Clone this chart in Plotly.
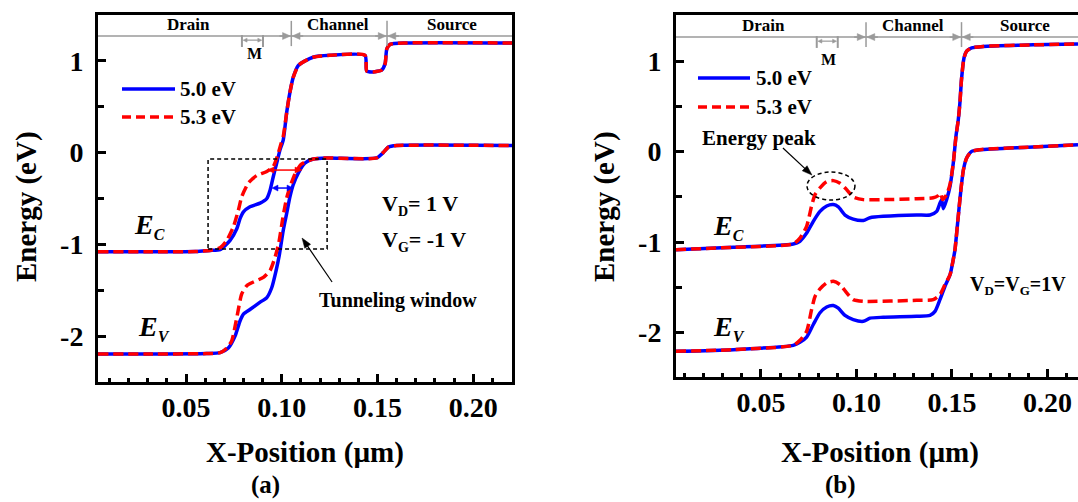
import math
import plotly.graph_objects as go

# ---------------- data ----------------
# Panel (a): VD = 1 V, VG = -1 V
a_ec_blue_x = [0.004, 0.030, 0.055, 0.0625, 0.0678, 0.073, 0.0765, 0.0782, 0.080, 0.0834, 0.0887, 0.0922,
               0.0939, 0.0956, 0.0974, 0.0991, 0.1008, 0.1026, 0.1043, 0.106, 0.1087, 0.1122, 0.1164, 0.1252,
               0.1435, 0.1444, 0.1477, 0.1522, 0.154, 0.1549, 0.1566, 0.1653, 0.2203]
a_ec_blue_y = [-1.08, -1.08, -1.078, -1.066, -1.058, -0.956, -0.83, -0.72, -0.645, -0.59, -0.55, -0.50,
               -0.41, -0.26, -0.11, 0.03, 0.14, 0.44, 0.66, 0.82, 0.95, 1.00, 1.04, 1.06,
               1.06, 0.89, 0.88, 0.90, 0.97, 1.13, 1.18, 1.195, 1.195]

a_ec_red_x = [0.004, 0.030, 0.055, 0.0625, 0.0678, 0.0713, 0.0747, 0.0773, 0.0791, 0.0826, 0.0869, 0.0922,
              0.0956, 0.0977, 0.0995, 0.1008, 0.1026, 0.1043, 0.106, 0.1087, 0.1122, 0.1164, 0.1252,
              0.1435, 0.1444, 0.1477, 0.1522, 0.154, 0.1549, 0.1566, 0.1653, 0.2203]
a_ec_red_y = [-1.08, -1.08, -1.078, -1.066, -1.036, -0.956, -0.81, -0.63, -0.48, -0.33, -0.25, -0.205,
              -0.15, -0.04, 0.09, 0.18, 0.44, 0.66, 0.82, 0.95, 1.00, 1.04, 1.06,
              1.06, 0.89, 0.88, 0.90, 0.97, 1.13, 1.18, 1.195, 1.195]

a_ev_blue_x = [0.004, 0.030, 0.0608, 0.0678, 0.0721, 0.0756, 0.0782, 0.080, 0.0834, 0.0887, 0.0922, 0.0948,
               0.097, 0.0987, 0.1008, 0.1026, 0.1043, 0.106, 0.1087, 0.1122, 0.1165, 0.1235, 0.1496,
               0.153, 0.1557, 0.160, 0.2203]
a_ev_blue_y = [-2.195, -2.195, -2.19, -2.18, -2.13, -2.0, -1.835, -1.76, -1.71, -1.63, -1.58, -1.47,
               -1.29, -1.12, -0.846, -0.66, -0.48, -0.35, -0.22, -0.113, -0.07, -0.058, -0.058,
               0.0, 0.06, 0.077, 0.077]

a_ev_red_x = [0.004, 0.030, 0.0608, 0.0678, 0.0713, 0.0739, 0.0765, 0.0791, 0.0817, 0.0852, 0.0904, 0.0939,
              0.0965, 0.0985, 0.1005, 0.1025, 0.1045, 0.107, 0.110, 0.1165, 0.1235, 0.1496,
              0.153, 0.1557, 0.160, 0.2203]
a_ev_red_y = [-2.195, -2.195, -2.19, -2.18, -2.13, -2.05, -1.80, -1.54, -1.45, -1.41, -1.36, -1.285,
              -1.14, -0.98, -0.72, -0.50, -0.36, -0.23, -0.13, -0.07, -0.058, -0.058,
              0.0, 0.06, 0.077, 0.077]

# Panel (b): VD = VG = 1 V
b_ec_blue_x = [0.0055, 0.0355, 0.0669, 0.0704, 0.0739, 0.0774, 0.0809, 0.0844, 0.0879, 0.0905, 0.094, 0.0983,
               0.1036, 0.1071, 0.114, 0.1315, 0.1385, 0.142, 0.1437, 0.1446, 0.1455, 0.1472, 0.149, 0.1507,
               0.1521, 0.1533, 0.1542, 0.155, 0.1563, 0.1577, 0.1603, 0.1664, 0.1925, 0.216]
b_ec_blue_y = [-1.083, -1.057, -1.02, -0.99, -0.90, -0.77, -0.66, -0.60, -0.585, -0.61, -0.70, -0.745,
               -0.76, -0.73, -0.715, -0.70, -0.70, -0.66, -0.57, -0.53, -0.63, -0.53, -0.38, -0.125,
               0.17, 0.35, 0.55, 0.80, 1.035, 1.11, 1.146, 1.163, 1.18, 1.19]

b_ec_red_x = [0.0055, 0.0355, 0.0669, 0.0704, 0.0739, 0.0765, 0.0783, 0.0809, 0.0844, 0.0879, 0.0914, 0.0949,
              0.0983, 0.1036, 0.114, 0.1315, 0.1402, 0.1428, 0.1441, 0.1451, 0.1472, 0.149, 0.1507,
              0.1521, 0.1533, 0.1542, 0.155, 0.1563, 0.1577, 0.1603, 0.1664, 0.1925, 0.216]
b_ec_red_y = [-1.083, -1.057, -1.02, -0.955, -0.825, -0.60, -0.475, -0.40, -0.33, -0.32, -0.35, -0.42,
              -0.50, -0.53, -0.53, -0.52, -0.51, -0.486, -0.46, -0.53, -0.475, -0.36, -0.125,
              0.17, 0.35, 0.55, 0.80, 1.035, 1.11, 1.146, 1.163, 1.18, 1.19]

b_ev_blue_x = [0.0055, 0.0355, 0.0669, 0.0704, 0.0739, 0.0774, 0.0809, 0.0844, 0.0879, 0.0905, 0.094, 0.0983,
               0.1036, 0.1071, 0.114, 0.1315, 0.1385, 0.1411, 0.1437, 0.1463, 0.149, 0.1507, 0.1516,
               0.1533, 0.1547, 0.156, 0.1577, 0.1603, 0.1647, 0.19, 0.216]
b_ev_blue_y = [-2.206, -2.188, -2.14, -2.107, -2.05, -1.91, -1.78, -1.716, -1.70, -1.73, -1.81, -1.856,
               -1.875, -1.84, -1.83, -1.82, -1.81, -1.765, -1.635, -1.49, -1.36, -1.19, -1.08,
               -0.715, -0.42, -0.20, -0.07, 0.003, 0.022, 0.05, 0.077]

b_ev_red_x = [0.0055, 0.0355, 0.0669, 0.0704, 0.0739, 0.0765, 0.0783, 0.0809, 0.0844, 0.0879, 0.0914, 0.0949,
              0.0983, 0.1036, 0.1315, 0.1402, 0.1437, 0.1463, 0.149, 0.1507, 0.1516,
              0.1533, 0.1547, 0.156, 0.1577, 0.1603, 0.1647, 0.19, 0.216]
b_ev_red_y = [-2.206, -2.188, -2.14, -2.085, -1.985, -1.746, -1.60, -1.517, -1.45, -1.433, -1.47, -1.56,
              -1.635, -1.654, -1.643, -1.635, -1.58, -1.47, -1.36, -1.19, -1.08,
              -0.715, -0.42, -0.20, -0.07, 0.003, 0.022, 0.05, 0.077]

series_names = ["5.0 eV", "5.3 eV"]
x_tick_vals = [0.05, 0.10, 0.15, 0.20]
x_tick_text = ["0.05", "0.10", "0.15", "0.20"]
y_tick_vals = [-2, -1, 0, 1]
y_tick_text = ["-2", "-1", "0", "1"]
region_names = ["Drain", "Channel", "Source"]
boundary_x = [0.105, 0.155]
m_x = [0.0792, 0.0902]

# ---------------- styling ----------------
FONT = "Liberation Serif"
BLUE = "#0000ff"
RED = "#ff0000"
GRAY = "#9a9a9a"
W, H = 1078, 502

XR_A = [0.004, 0.2203]
XR_B = [0.0055, 0.216]
YR_A = [-2.5, 1.5]
YR_B = [-2.49, 1.51]
DOM_XA = [98, 512]
DOM_XB = [676, 1078]
DOM_YA = [15, 382]
DOM_YB = [15, 377]

# pixel scale of each axis pair (used only to draw arrowheads with a true shape)
SCALE = {
    "x": (DOM_XA[1] - DOM_XA[0]) / (XR_A[1] - XR_A[0]), "y": (DOM_YA[1] - DOM_YA[0]) / (YR_A[1] - YR_A[0]),
    "x2": (DOM_XB[1] - DOM_XB[0]) / (XR_B[1] - XR_B[0]), "y2": (DOM_YB[1] - DOM_YB[0]) / (YR_B[1] - YR_B[0]),
}

fig = go.Figure()

def add_pair(xb, yb, xr, yr, xa, ya):
    fig.add_trace(go.Scatter(x=xb, y=yb, mode="lines", name=series_names[0], xaxis=xa, yaxis=ya,
                             line=dict(color=BLUE, width=3.5, shape="spline", smoothing=0.6), showlegend=False))
    fig.add_trace(go.Scatter(x=xr, y=yr, mode="lines", name=series_names[1], xaxis=xa, yaxis=ya,
                             line=dict(color=RED, width=3.5, dash="10px,5px", shape="spline", smoothing=0.6),
                             showlegend=False))

add_pair(a_ec_blue_x, a_ec_blue_y, a_ec_red_x, a_ec_red_y, "x", "y")
add_pair(a_ev_blue_x, a_ev_blue_y, a_ev_red_x, a_ev_red_y, "x", "y")
add_pair(b_ec_blue_x, b_ec_blue_y, b_ec_red_x, b_ec_red_y, "x2", "y2")
add_pair(b_ev_blue_x, b_ev_blue_y, b_ev_red_x, b_ev_red_y, "x2", "y2")

tickfont = dict(family=FONT, size=28, color="black", weight="bold")

def xaxis_cfg(domain, rng, anchor):
    return dict(domain=[domain[0] / W, domain[1] / W], range=rng, anchor=anchor,
                tickmode="array", tickvals=x_tick_vals, ticktext=x_tick_text,
                ticks="inside", ticklen=8, tickwidth=3, tickcolor="black",
                minor=dict(tickmode="linear", tick0=0, dtick=0.01, ticks="inside", ticklen=4, tickwidth=3,
                           tickcolor="black", showgrid=False),
                showline=True, linewidth=3, linecolor="black", mirror=True,
                showgrid=False, zeroline=False, tickfont=tickfont,
                ticklabelposition="inside", ticklabelstandoff=-46)

def yaxis_cfg(domain, rng, anchor, mirror):
    return dict(domain=[(H - domain[1]) / H, (H - domain[0]) / H], range=rng, anchor=anchor,
                tickmode="array", tickvals=y_tick_vals,
                ticktext=y_tick_text, ticks="inside", ticklen=8, tickwidth=3, tickcolor="black",
                minor=dict(tickmode="linear", tick0=0, dtick=0.5, ticks="inside", ticklen=6, tickwidth=3,
                           tickcolor="black", showgrid=False),
                showline=True, linewidth=3, linecolor="black", mirror=mirror,
                showgrid=False, zeroline=False, tickfont=tickfont, ticklabelstandoff=6)

fig.update_layout(
    width=W, height=H, margin=dict(l=0, r=0, t=0, b=0),
    paper_bgcolor="white", plot_bgcolor="white", showlegend=False,
    xaxis=xaxis_cfg(DOM_XA, XR_A, "y"),
    yaxis=yaxis_cfg(DOM_YA, YR_A, "x", True),
    xaxis2=xaxis_cfg(DOM_XB, XR_B, "y2"),
    yaxis2=yaxis_cfg(DOM_YB, YR_B, "x2", False),
)

shapes = []
ann = []

def txt(text, x, y, xref, yref, size, xanchor="center", yanchor="middle", angle=0):
    ann.append(dict(text=text, x=x, y=y, xref=xref, yref=yref, showarrow=False, xanchor=xanchor,
                    yanchor=yanchor, textangle=angle,
                    font=dict(family=FONT, size=size, color="black", weight="bold")))

def sz(s, size, italic=False):
    inner = "<i>" + s + "</i>" if italic else s
    return "<span style='font-size:{}px'>{}</span>".format(size, inner)

def line(xref, yref, x0, y0, x1, y1, color, width, dash="solid"):
    shapes.append(dict(type="line", xref=xref, yref=yref, x0=x0, y0=y0, x1=x1, y1=y1,
                       line=dict(color=color, width=width, dash=dash)))

def head(xref, yref, xt, yt, xf, yf, color, hl, hw):
    """filled triangular arrowhead with its tip at (xt, yt), pointing away from (xf, yf); hl, hw in px"""
    sx, sy = SCALE[xref], SCALE[yref]
    dx, dy = (xt - xf) * sx, (yt - yf) * sy
    n = math.hypot(dx, dy)
    ux, uy = dx / n, dy / n
    bx, by = xt * sx - ux * hl, yt * sy - uy * hl
    p1 = (bx - uy * hw / 2, by + ux * hw / 2)
    p2 = (bx + uy * hw / 2, by - ux * hw / 2)
    path = "M {:.6f},{:.6f} L {:.6f},{:.6f} L {:.6f},{:.6f} Z".format(
        xt, yt, p1[0] / sx, p1[1] / sy, p2[0] / sx, p2[1] / sy)
    shapes.append(dict(type="path", xref=xref, yref=yref, path=path, fillcolor=color,
                       line=dict(color=color, width=0.5)))

def arrow(xref, yref, x0, y0, x1, y1, color, width, hl, hw, both=False):
    """arrow from (x0, y0) to (x1, y1)"""
    sx, sy = SCALE[xref], SCALE[yref]
    L = math.hypot((x1 - x0) * sx, (y1 - y0) * sy)
    f = (hl * 0.8) / L
    xs, ys = (x0 + (x1 - x0) * f, y0 + (y1 - y0) * f) if both else (x0, y0)
    xe, ye = x1 - (x1 - x0) * f, y1 - (y1 - y0) * f
    line(xref, yref, xs, ys, xe, ye, color, width)
    head(xref, yref, x1, y1, x0, y0, color, hl, hw)
    if both:
        head(xref, yref, x0, y0, x1, y1, color, hl, hw)

def region_marks(xref, yref, xr, yline, region_x, ytext, m_label_xy):
    line(xref, yref, xr[0], yline, xr[1], yline, GRAY, 1.5)
    for bx in boundary_x:
        line(xref, yref, bx, yline - 0.11, bx, yline + 0.165, GRAY, 1.5)
        arrow(xref, yref, bx - 0.0062, yline, bx - 0.0004, yline, GRAY, 1.5, 8, 7)
        arrow(xref, yref, bx + 0.0062, yline, bx + 0.0004, yline, GRAY, 1.5, 8, 7)
    for mx in m_x:
        line(xref, yref, mx, yline - 0.12, mx, yline + 0.01, GRAY, 2)
    arrow(xref, yref, m_x[0] + 0.0006, yline - 0.045, m_x[1] - 0.0006, yline - 0.045, GRAY, 1.2, 4, 4,
          both=True)
    for name, rx in zip(region_names, region_x):
        txt(name, rx, ytext, xref, yref, 17)
    txt("M", m_label_xy[0], m_label_xy[1], xref, yref, 16)

region_marks("x", "y", XR_A, 1.271, [0.0515, 0.1294, 0.189], 1.391, (0.0858, 1.075))
region_marks("x2", "y2", XR_B, 1.266, [0.0511, 0.1296, 0.1883], 1.399, (0.0851, 1.023))

# legends (drawn as sample lines + labels)
def legend(xref, yref, x0, x1, ys, xtext):
    line(xref, yref, x0, ys[0], x1, ys[0], BLUE, 3.5)
    line(xref, yref, x0, ys[1], x1, ys[1], RED, 3.5, "9px,5px")
    txt(series_names[0], xtext, ys[0], xref, yref, 21, xanchor="left")
    txt(series_names[1], xtext, ys[1], xref, yref, 21, xanchor="left")

legend("x", "y", 0.01654, 0.04423, [0.693, 0.388], 0.0458)
legend("x2", "y2", 0.01702, 0.04425, [0.813, 0.493], 0.0463)

# band labels
EC = sz("E", 28, True) + "<sub>" + sz("C", 16, True) + "</sub>"
EV = sz("E", 28, True) + "<sub>" + sz("V", 16, True) + "</sub>"
txt(EC, 0.0215, -0.80, "x", "y", 28, xanchor="left")
txt(EV, 0.0236, -1.91, "x", "y", 28, xanchor="left")
txt(EC, 0.0238, -0.835, "x2", "y2", 28, xanchor="left")
txt(EV, 0.0238, -1.95, "x2", "y2", 28, xanchor="left")

# panel (a) annotations
txt(sz("V", 22) + "<sub>" + sz("D", 14) + "</sub>" + sz("= 1 V", 22), 0.1513, -0.571, "x", "y", 22,
    xanchor="left")
txt(sz("V", 22) + "<sub>" + sz("G", 14) + "</sub>" + sz("= -1 V", 22), 0.1513, -0.963, "x", "y", 22,
    xanchor="left")
txt("Tunneling window", 0.1608, -1.607, "x", "y", 20)
arrow("x", "y", 0.1263, -1.41, 0.1106, -0.931, "black", 1.2, 10, 7)
shapes.append(dict(type="rect", xref="x", yref="y", x0=0.0615, x1=0.1237, y0=-1.051, y1=-0.070,
                   line=dict(color="black", width=1.5, dash="4px,3px")))
arrow("x", "y", 0.0923, -0.190, 0.1106, -0.190, RED, 1.5, 7, 6, both=True)
arrow("x", "y", 0.0949, -0.386, 0.1059, -0.386, BLUE, 1.5, 6, 6, both=True)

# panel (b) annotations
txt("Energy peak", 0.049, 0.150, "x2", "y2", 21)
arrow("x2", "y2", 0.0615, 0.040, 0.0767, -0.259, "black", 1.2, 10, 7)
shapes.append(dict(type="circle", xref="x2", yref="y2", x0=0.0741, x1=0.0992, y0=-0.535, y1=-0.225,
                   line=dict(color="black", width=1.5, dash="4px,3px")))
txt(sz("V", 20) + "<sub>" + sz("D", 13) + "</sub>" + sz("=V", 20) + "<sub>" + sz("G", 13) + "</sub>"
    + sz("=1V", 20), 0.1584, -1.474, "x2", "y2", 20, xanchor="left")

# axis titles and panel labels
txt("Energy (eV)", 27 / W, (H - 207) / H, "paper", "paper", 29, angle=-90)
txt("Energy (eV)", 605 / W, (H - 207) / H, "paper", "paper", 29, angle=-90)
txt("X-Position (µm)", 305 / W, (H - 452) / H, "paper", "paper", 29)
txt("X-Position (µm)", 880 / W, (H - 452) / H, "paper", "paper", 29)
txt("(a)", 265 / W, 1 / H, "paper", "paper", 25, yanchor="bottom")
txt("(b)", 840 / W, 1 / H, "paper", "paper", 25, yanchor="bottom")

fig.update_layout(shapes=shapes, annotations=ann)
fig.write_html("out.html")
